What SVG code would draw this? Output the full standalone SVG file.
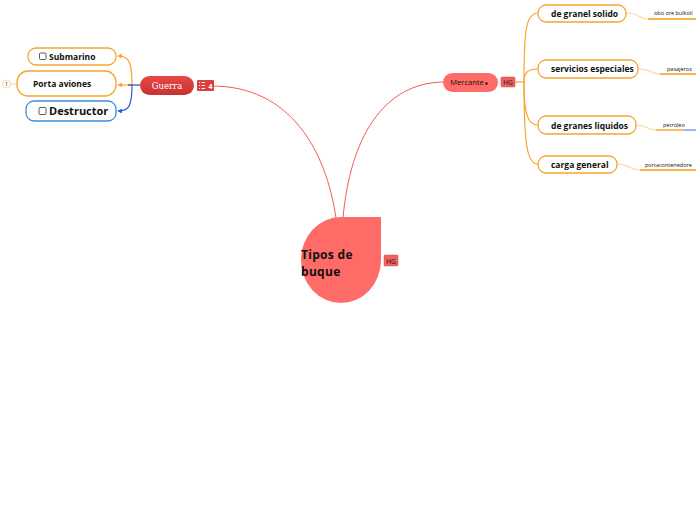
<svg xmlns="http://www.w3.org/2000/svg" width="696" height="520" viewBox="0 0 696 520">
<defs>
<style>
.t{font-family:"Open Sans","Noto Sans",sans-serif;fill:#111}
.b{font-weight:bold}
.box{fill:#fff;stroke:#f7a52e;stroke-width:1.3}
.con{fill:none;stroke:#f7a52e;stroke-width:1.2}
.leafc{fill:none;stroke:#fcd79e;stroke-width:1.2}
.leafu{fill:none;stroke:#f59c0c;stroke-width:1.3}
.red{fill:none;stroke:#f25a5a;stroke-width:1}
.tag{fill:#f06060;stroke:#d84a4a;stroke-width:0.5}
.cb{fill:none;stroke:#333;stroke-width:0.8}
</style>
<marker id="ao" viewBox="0 0 6 6" refX="5" refY="3" markerWidth="4" markerHeight="4" orient="auto"><path d="M0,0 L6,3 L0,6 z" fill="#f7a52e"/></marker>
<marker id="ab" viewBox="0 0 6 6" refX="5" refY="3" markerWidth="4" markerHeight="4" orient="auto"><path d="M0,0 L6,3 L0,6 z" fill="#2a5ee0"/></marker>
<linearGradient id="gg" x1="0" y1="0" x2="0" y2="1"><stop offset="0" stop-color="#e84848"/><stop offset="1" stop-color="#c83030"/></linearGradient>
</defs>
<rect width="696" height="520" fill="#fff"/>
<g id="connectors">
<path class="red" d="M212,86 C290,86 326,150 336,218"/>
<path class="red" d="M343,218 C350,140 382,82 445,82"/>
<path class="con" d="M132,85 C132,60 128,56 118,56" marker-end="url(#ao)"/>
<path class="con" d="M132,85 H118" marker-end="url(#ao)"/>
<path d="M132,85 C132,108 128,111 118,111" fill="none" stroke="#2a5ee0" stroke-width="1.2" marker-end="url(#ab)"/>
<path d="M128,85 H140" fill="none" stroke="#2a4ea0" stroke-width="1.2"/>
<path d="M10,84 H17" fill="none" stroke="#fcd79e" stroke-width="1.2"/>
<path class="con" d="M515,82 H524"/>
<path class="con" d="M524,82 C524,30 526,13 538,13"/>
<path class="con" d="M524,82 C524,72 528,69 538,69"/>
<path class="con" d="M524,82 C524,115 528,125 538,125"/>
<path class="con" d="M524,82 C524,150 528,164 538,164"/>
<path class="leafc" d="M626,13 C640,13 638,19 648,19"/>
<path class="leafu" d="M648,19 H696"/>
<path class="leafc" d="M638,69 C652,69 650,74 660,74"/>
<path class="leafu" d="M660,74 H696"/>
<path class="leafc" d="M636,125 C648,125 646,130 656,130"/>
<path class="leafu" d="M656,130 H684"/>
<path d="M684,130 H696" stroke="#6a8ee8" stroke-width="1.3"/>
<path class="leafc" d="M617,164 C630,164 628,170 640,170"/>
<path class="leafu" d="M640,170 H696"/>
</g>
<g id="central">
<path d="M341,217 H381 V260 A40,43 0 1 1 341,217 Z" fill="#ff6b66"/>
<text class="t b" x="301" y="259" font-size="12" letter-spacing="0.3">Tipos de</text>
<text class="t b" x="301" y="276" font-size="12" letter-spacing="0.3">buque</text>
<rect class="tag" x="384" y="255" width="14" height="11" rx="1"/>
<text class="t" x="391" y="263.5" font-size="6.5" text-anchor="middle" fill="#333">HG</text>
</g>
<g id="guerra">
<rect x="140" y="76" width="54" height="19" rx="9.5" fill="url(#gg)"/>
<text x="167" y="89" font-family="DejaVu Serif,serif" font-size="8.5" fill="#fff" text-anchor="middle">Guerra</text>
<rect x="197" y="80" width="17" height="11" rx="1" fill="#d94040"/>
<path d="M199,82.5 h1 M199,85.5 h1 M199,88.5 h1 M201.5,82.5 h3.5 M201.5,85.5 h3.5 M201.5,88.5 h3.5" stroke="#fff" stroke-width="0.9"/>
<text x="210.5" y="88.5" font-family="Open Sans,sans-serif" font-size="7" fill="#fff" text-anchor="middle" font-weight="bold">4</text>
</g>
<g id="submarino">
<rect class="box" x="28" y="48" width="88" height="17" rx="8"/>
<rect class="cb" x="39.5" y="53" width="6.5" height="6.5" rx="1"/>
<text class="t b" x="49" y="60" font-size="8.5">Submarino</text>
</g>
<g id="porta">
<rect class="box" x="17" y="71" width="99" height="25" rx="11"/>
<text class="t b" x="33" y="87" font-size="8.5">Porta aviones</text>
<circle cx="6.5" cy="84" r="4" fill="#fff" stroke="#fcd79e" stroke-width="1"/>
<text class="t" x="6.5" y="86" font-size="5" text-anchor="middle" fill="#f5c07a">1</text>
</g>
<g id="destructor">
<rect x="26" y="101" width="90" height="20" rx="8" fill="#fff" stroke="#3b8fdb" stroke-width="1.3"/>
<rect class="cb" x="39" y="107.5" width="7" height="7" rx="1"/>
<text class="t b" x="49" y="115" font-size="11">Destructor</text>
</g>
<g id="mercante">
<rect x="443" y="73" width="55" height="19" rx="9.5" fill="#ff6b66"/>
<text class="t" x="467" y="85" font-size="7.5" text-anchor="middle" fill="#333">Mercante</text>
<circle cx="486.5" cy="83.5" r="1.3" fill="#222"/>
<rect class="tag" x="501" y="77" width="14" height="10" rx="1"/>
<text class="t" x="508" y="84.5" font-size="6.5" text-anchor="middle" fill="#333">HG</text>
</g>
<g id="granel">
<rect class="box" x="538" y="5" width="88" height="17" rx="8"/>
<text class="t b" x="551" y="16.5" font-size="8.5">de granel solido</text>
</g>
<g id="obo">
<text class="t" x="654" y="15" font-size="5.5" fill="#333">obo ore bulkoil</text>
</g>
<g id="servicios">
<rect class="box" x="538" y="60" width="100" height="18" rx="8"/>
<text class="t b" x="551" y="72" font-size="8.5">servicios especiales</text>
</g>
<g id="pasajeros">
<text class="t" x="667" y="71" font-size="5.5" fill="#333">pasajeros</text>
</g>
<g id="liquidos">
<rect class="box" x="538" y="116" width="98" height="18" rx="8"/>
<text class="t b" x="551" y="128.5" font-size="8.5">de granes liquidos</text>
</g>
<g id="petroleo">
<text class="t" x="663" y="127" font-size="5.5" fill="#333">petróleo</text>
</g>
<g id="carga">
<rect class="box" x="538" y="156" width="79" height="17" rx="8"/>
<text class="t b" x="551" y="167.5" font-size="8.5">carga general</text>
</g>
<g id="portacontenedore">
<text class="t" x="645" y="167" font-size="5.5" fill="#333">portacontenedore</text>
</g>
</svg>
